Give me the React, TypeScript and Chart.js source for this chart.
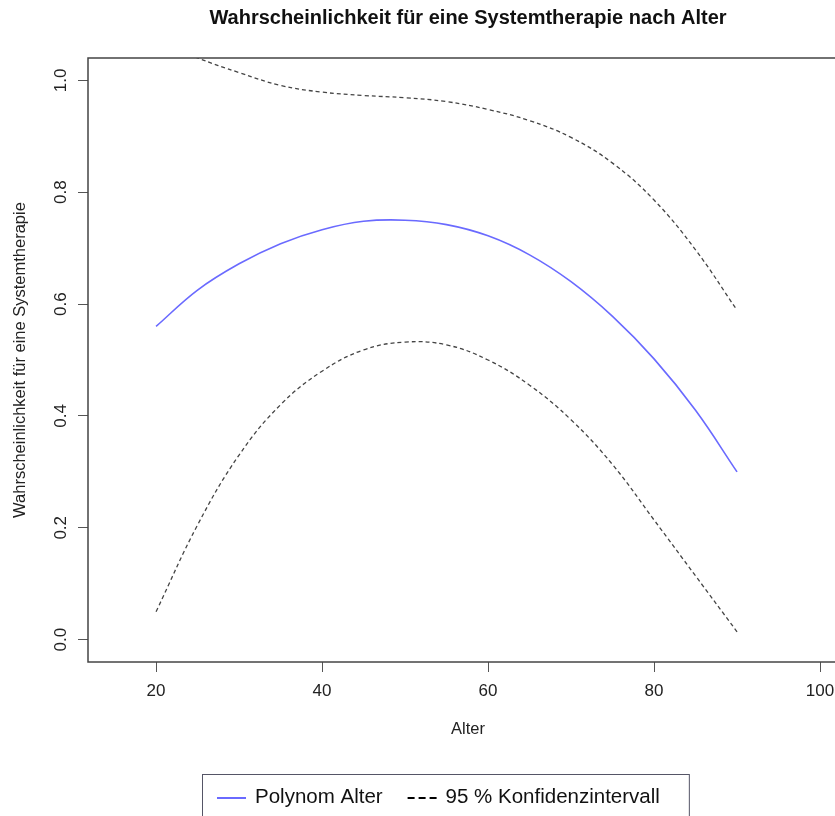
import React, { useEffect, useRef } from "react";
import { Chart, registerables } from "chart.js";

Chart.register(...registerables);

// ---- data ----
const ages = [20, 25, 30, 35, 40, 45, 50, 55, 60, 65, 70, 75, 80, 85, 90];
const fitValues = [0.56, 0.625, 0.672, 0.708, 0.733, 0.748, 0.75, 0.742, 0.722, 0.688, 0.64, 0.578, 0.502, 0.41, 0.3];
const upperValues = [1.07, 1.04, 1.014, 0.991, 0.979, 0.973, 0.969, 0.962, 0.948, 0.928, 0.898, 0.852, 0.786, 0.697, 0.589];
const lowerValues = [0.05, 0.205, 0.33, 0.42, 0.48, 0.518, 0.532, 0.527, 0.5, 0.455, 0.393, 0.313, 0.214, 0.114, 0.014];
const xTickValues = [20, 40, 60, 80, 100];
const yTickValues = [0, 0.2, 0.4, 0.6, 0.8, 1.0];

const titleText = "Wahrscheinlichkeit für eine Systemtherapie nach Alter";
const xTitleText = "Alter";
const yTitleText = "Wahrscheinlichkeit für eine Systemtherapie";
const fitLabel = "Polynom Alter";
const ciLabel = "95 % Konfidenzintervall";

const FONT = "'Liberation Sans', Arial, Helvetica, sans-serif";
const CANVAS_W = 880;
const CANVAS_H = 816;

const boxPlugin = {
  id: "plotBox",
  afterDatasetsDraw(chart: any) {
    const { ctx, chartArea } = chart;
    ctx.save();
    ctx.strokeStyle = "#444";
    ctx.lineWidth = 1.5;
    ctx.strokeRect(chartArea.left, chartArea.top, chartArea.right - chartArea.left, chartArea.bottom - chartArea.top);
    ctx.restore();
  },
};

const boxLegendPlugin = {
  id: "boxLegend",
  afterDraw(chart: any) {
    const ctx = chart.ctx;
    const seen = new Set<string>();
    const items: any[] = [];
    chart.data.datasets.forEach((ds: any) => {
      if (!seen.has(ds.label)) {
        seen.add(ds.label);
        items.push(ds);
      }
    });
    ctx.save();
    ctx.font = `20.5px ${FONT}`;
    ctx.textBaseline = "middle";
    ctx.textAlign = "left";
    const boxLeft = 202;
    const boxTop = 774;
    const y = 798;
    let x = boxLeft + 15;
    items.forEach((ds: any, i: number) => {
      ctx.save();
      ctx.strokeStyle = ds.legendColor || ds.borderColor;
      ctx.lineWidth = 2;
      ctx.setLineDash(ds.borderDash && ds.borderDash.length ? [7, 4] : []);
      ctx.beginPath();
      ctx.moveTo(x, y);
      ctx.lineTo(x + 29, y);
      ctx.stroke();
      ctx.restore();
      x += 29 + 9;
      ctx.fillStyle = "#111";
      ctx.fillText(ds.label, x, y - 1);
      x += ctx.measureText(ds.label).width;
      if (i < items.length - 1) x += 25;
    });
    const boxRight = x + 29;
    ctx.strokeStyle = "#556";
    ctx.lineWidth = 1;
    ctx.strokeRect(boxLeft + 0.5, boxTop + 0.5, boxRight - boxLeft, 80);
    ctx.restore();
  },
};

export default function App() {
  const ref = useRef<HTMLCanvasElement | null>(null);

  useEffect(() => {
    if (!ref.current) return;
    const chart = new Chart(ref.current, {
      type: "line",
      data: {
        datasets: [
          {
            label: fitLabel,
            data: ages.map((a, i) => ({ x: a, y: fitValues[i] })),
            borderColor: "#6a6aff",
            borderWidth: 1.6,
            pointRadius: 0,
            tension: 0.4,
            fill: false,
          },
          {
            label: ciLabel,
            data: ages.map((a, i) => ({ x: a, y: upperValues[i] })),
            borderColor: "#444",
            legendColor: "#000",
            borderWidth: 1.3,
            borderDash: [4, 3],
            pointRadius: 0,
            tension: 0.4,
            fill: false,
          } as any,
          {
            label: ciLabel,
            data: ages.map((a, i) => ({ x: a, y: lowerValues[i] })),
            borderColor: "#444",
            legendColor: "#000",
            borderWidth: 1.3,
            borderDash: [4, 3],
            pointRadius: 0,
            tension: 0.4,
            fill: false,
          } as any,
        ],
      },
      options: {
        animation: false,
        responsive: false,
        devicePixelRatio: 1,
        layout: { padding: { left: 0, top: 0, right: CANVAS_W - 848, bottom: CANVAS_H - 662 - 90 } },
        plugins: {
          legend: { display: false },
          tooltip: { enabled: false },
          title: {
            display: true,
            text: titleText,
            fullSize: false,
            color: "#111",
            font: { family: FONT, size: 20, weight: "bold" },
            padding: { top: 6, bottom: 28 },
          },
        },
        scales: {
          x: {
            type: "linear",
            min: 11.8,
            max: 103.37,
            afterBuildTicks: (scale: any) => {
              scale.ticks = xTickValues.map((v) => ({ value: v }));
            },
            afterFit: (scale: any) => {
              scale.height = 90;
            },
            border: { display: false },
            grid: { display: true, drawOnChartArea: false, drawTicks: true, tickLength: 10, color: "#555", lineWidth: 1 },
            ticks: {
              color: "#222",
              font: { family: FONT, size: 17 },
              padding: 9,
              maxRotation: 0,
              minRotation: 0,
              autoSkip: false,
              callback: (v: any) => String(v),
            },
            title: {
              display: true,
              text: xTitleText,
              color: "#222",
              font: { family: FONT, size: 16.5 },
              padding: { top: 0, bottom: 13 },
            },
          },
          y: {
            type: "linear",
            min: -0.04,
            max: 1.04,
            afterBuildTicks: (scale: any) => {
              scale.ticks = yTickValues.map((v) => ({ value: v }));
            },
            afterFit: (scale: any) => {
              scale.width = 88;
            },
            border: { display: false },
            grid: { display: true, drawOnChartArea: false, drawTicks: true, tickLength: 10, color: "#555", lineWidth: 1 },
            ticks: {
              color: "#222",
              font: { family: FONT, size: 17 },
              padding: 5,
              minRotation: 90,
              maxRotation: 90,
              crossAlign: "center",
              autoSkip: false,
              callback: (v: any) => Number(v).toFixed(1),
            },
            title: {
              display: true,
              text: yTitleText,
              color: "#222",
              font: { family: FONT, size: 16.5 },
              padding: { top: 11, bottom: 0 },
            },
          },
        },
      } as any,
      plugins: [boxPlugin, boxLegendPlugin],
    });
    return () => chart.destroy();
  }, []);

  return (
    <div style={{ position: "absolute", left: 0, top: 0, width: 835, height: 816, overflow: "hidden", background: "#fff" }}>
      <canvas ref={ref} width={CANVAS_W} height={CANVAS_H} style={{ display: "block", width: CANVAS_W, height: CANVAS_H }} />
    </div>
  );
}
